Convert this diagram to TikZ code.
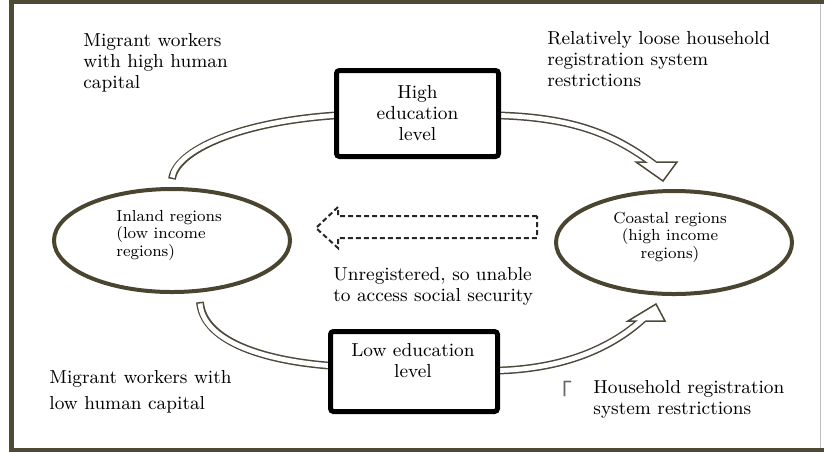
\documentclass[tikz,border=0pt]{standalone}
\usepackage{fontspec}
\usetikzlibrary{shapes.geometric,backgrounds}
\newfontfamily\cjk{Noto Sans CJK SC}
\definecolor{olivedark}{HTML}{4A4530}
\definecolor{bandline}{HTML}{4D493A}
\definecolor{framecol}{HTML}{4E4A36}

\begin{document}
\begin{tikzpicture}[x=0.5pt, y=-0.5pt,
                    every node/.style={inner sep=0pt, font=\fontsize{9.4}{10.5}\selectfont},
                    edubox/.style={draw=black, line width=2.5pt, rounded corners=1.5pt, fill=white, align=center},
                    region/.style={ellipse, draw=olivedark, line width=2pt, minimum width=118pt, minimum height=51.5pt},
                    regtext/.style={font=\fontsize{8}{8.7}\selectfont, anchor=base west, align=left},
                    note/.style={anchor=base west, align=left},
                    bandout/.style={draw=bandline, line width=3.9pt, line cap=butt},
                    bandin/.style={draw=white, line width=2.4pt, line cap=butt},
                    bandhead/.style={draw=bandline, line width=0.75pt, fill=white, line join=miter},
                    dashbox/.style={draw=black!85, line width=1pt, dash pattern=on 2.5pt off 1.5pt}
]
\useasboundingbox (0,0) rectangle (824,452);
% frame
\draw[framecol, line width=2.3pt] (824,2) -- (11.5,2) -- (11.5,450) -- (824,450);
\draw[black!25, line width=0.5pt] (820,4) -- (820,448);

% regions and education levels
\node[region] (inland) at (172,240.5) {};
\node[region] (coastal) at (674,242.5) {};
\node[edubox, minimum width=81pt, minimum height=43pt] (high) at (417.5,113.5) {High\\education\\level};
\node[edubox, minimum width=83.5pt, minimum height=40pt] (low) at (414,371.5) {};
\node[align=center, anchor=base] (lowtxt) at (413,377) {Low education\\level};

% base of the last line
\node[regtext] (inlandtxt) at (116,256) {Inland regions\\(low income\\regions)};
\node[regtext, align=center, anchor=base] (coastaltxt) at (670,258) {Coastal regions\\(high income\\regions)};

% notes
\node[note] (hinote) at (83,88) {Migrant workers\\with high human\\capital};
\node[note] (loosenote) at (547,86) {Relatively loose household\\registration system\\restrictions};
\node[note] (unregnote) at (333,301) {Unregistered, so unable\\to access social security};
\node[note, font=\fontsize{9.4}{13}\selectfont] (lonote) at (49,409) {Migrant workers with\\low human capital};
\node[note] (hhnote) at (593,414.5) {Household registration\\system restrictions};
\node[font=\cjk\fontsize{12}{12}\selectfont, text=black!60, anchor=base west] (mark) at (548,401) {「};

% unregistered flow back
\draw[dashbox] (537,216) -- (338,216) -- (338,207) -- (316,228) -- (338,248) -- (338,238) -- (537,238) -- cycle;

\begin{scope}[on background layer]
\coordinate (hiend) at (651,162);
\coordinate (loend) at (641,321);
% outlines
\draw[bandout] ([yshift=4pt]inland.north) .. controls (176,150) and (240,122) .. ([yshift=-1pt]high.west);
\draw[bandout, shorten >=-2pt] ([yshift=-1pt]high.east) .. controls (575,118) and (615,135) .. (hiend);
\draw[bandout] ([shift={(14pt,-4pt)}]inland.south) .. controls (203,340) and (260,360) .. ([yshift=3pt]low.west);
\draw[bandout, shorten >=-2pt] ([yshift=0.5pt]low.east) .. controls (570,368) and (615,345) .. (loend);
% heads
\draw[bandhead] (636,162) -- (663,181) -- (677,162) -- cycle;
\draw[bandhead] (628,321) -- (656,304) -- (665,321) -- cycle;
% hollow inside
\draw[bandin, shorten <=0.75pt] ([yshift=4pt]inland.north) .. controls (176,150) and (240,122) .. ([yshift=-1pt]high.west);
\draw[bandin, shorten >=-2.5pt] ([yshift=-1pt]high.east) .. controls (575,118) and (615,135) .. (hiend);
\draw[bandin, shorten <=0.75pt] ([shift={(14pt,-4pt)}]inland.south) .. controls (203,340) and (260,360) .. ([yshift=3pt]low.west);
\draw[bandin, shorten >=-2.5pt] ([yshift=0.5pt]low.east) .. controls (570,368) and (615,345) .. (loend);
\end{scope}
\end{tikzpicture}
\end{document}
